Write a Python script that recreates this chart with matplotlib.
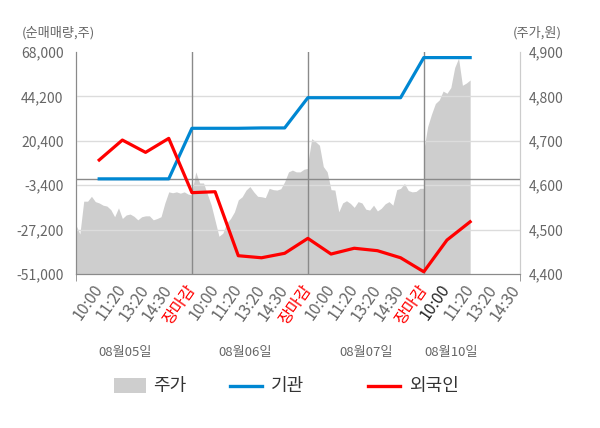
import numpy as np
import matplotlib
matplotlib.use("Agg")
import matplotlib.pyplot as plt
from matplotlib.lines import Line2D
from matplotlib.patches import Rectangle
from matplotlib.transforms import blended_transform_factory

plt.rcParams['font.family'] = ['Noto Sans CJK KR', 'DejaVu Sans']

# x tick labels (4 trading days, last one unfinished)
tick_labels = ["10:00", "11:20", "13:20", "14:30", "장마감",
               "10:00", "11:20", "13:20", "14:30", "장마감",
               "10:00", "11:20", "13:20", "14:30", "장마감",
               "10:00", "11:20", "13:20", "14:30"]
day_labels = ["08월05일", "08월06일", "08월07일", "08월10일"]

# cumulative net buying (shares), one value per tick slot
inst = [0, 0, 0, 0, 27100, 27100, 27100, 27300, 27300,
        43500, 43500, 43500, 43500, 43500, 65000, 65000, 65000]
foreign = [10100, 20800, 14200, 21700, -7400, -6900, -41200, -42300, -39900,
           -31900, -40300, -37200, -38500, -42300, -49800, -32800, -23000]

# intraday price (won), sampled per day
price_d1 = [4510, 4490, 4564, 4564, 4575, 4563, 4560, 4555, 4553, 4545,
            4529, 4549, 4525, 4533, 4535, 4530, 4522, 4529, 4531, 4531,
            4522, 4525, 4529, 4560, 4585, 4583, 4585, 4582, 4585, 4580, 4578]
price_d2 = [4585, 4630, 4605, 4605, 4580, 4555, 4520, 4485, 4492, 4515,
            4525, 4540, 4567, 4574, 4589, 4597, 4585, 4575, 4574, 4572,
            4593, 4590, 4589, 4592, 4608, 4630, 4634, 4630, 4630, 4636, 4638]
price_d3 = [4650, 4705, 4698, 4690, 4642, 4630, 4590, 4589, 4540, 4560,
            4565, 4559, 4550, 4563, 4560, 4546, 4544, 4555, 4542, 4548,
            4558, 4563, 4555, 4590, 4593, 4604, 4588, 4585, 4586, 4593, 4593]
price_d4 = [4679, 4732, 4760, 4784, 4792, 4812, 4807, 4820, 4865, 4886,
            4825, 4830, 4837]

left_ticks = [68000, 44200, 20400, -3400, -27200, -51000]
right_ticks = [4900, 4800, 4700, 4600, 4500, 4400]

W, H = 600, 428
fig = plt.figure(figsize=(6, 4.28), dpi=100)
ax = fig.add_axes([76 / W, 1 - 274 / H, 444 / W, 222 / H])
ax2 = ax.twinx()
ax.set_zorder(ax2.get_zorder() + 1)
ax.patch.set_visible(False)
ax2.patch.set_facecolor("#f4f4f4")

# price area
step = 5 / 30
px, py = [], []
for d, vals in enumerate([price_d1, price_d2, price_d3, price_d4]):
    px.extend(5 * d + np.arange(len(vals)) * step)
    py.extend(vals)
ax2.fill_between(px, 4400, py, color="#cecece", lw=0)
ax2.set_ylim(4400, 4900)
ax2.set_yticks(right_ticks)
ax2.set_yticklabels([f"{v:,}" for v in right_ticks])

# grid and separators
for v in left_ticks[1:-1]:
    ax.axhline(v, color="#dcdcdc", lw=1, zorder=1)
ax.axhline(0, color="#8a8a8a", lw=1, zorder=1)
for xv in [5, 10, 15]:
    ax.axvline(xv, color="#8a8a8a", lw=1, zorder=1)

xs = np.arange(1, len(inst) + 1)
ax.plot(xs, inst, color="#0087d2", lw=2.3, zorder=3)
ax.plot(xs, foreign, color="#ff0000", lw=2.3, zorder=4)

ax.set_ylim(-51000, 68000)
ax.set_xlim(0, 19.15)
ax.set_yticks(left_ticks)
ax.set_yticklabels([f"{v:,}" for v in left_ticks])

ax.set_xticks(np.arange(1, len(tick_labels) + 1))
ax.set_xticklabels(tick_labels, rotation=55, ha="right", va="center",
                   rotation_mode="anchor")
ax.set_xticks([0, 5, 10, 15, 19.15], minor=True)
ax.tick_params(axis="x", which="major", length=0, pad=9, labelsize=11.5, labelcolor="#666666")
ax.tick_params(axis="x", which="minor", length=5, color="#8a8a8a")
ax.tick_params(axis="y", length=0, pad=9, labelsize=10, labelcolor="#666666")
ax2.tick_params(axis="y", length=0, pad=6, labelsize=10, labelcolor="#666666")
for i, lab in enumerate(ax.get_xticklabels()):
    if tick_labels[i] == "장마감":
        lab.set_color("red")
    elif i == 15:
        lab.set_color("#222222")

for a in (ax, ax2):
    a.spines["top"].set_visible(False)
    a.spines["left"].set_color("#8a8a8a")
    a.spines["bottom"].set_color("#8a8a8a")
    a.spines["right"].set_color("#cccccc")

trans = blended_transform_factory(ax.transData, ax.transAxes)
for xv, lab in zip([2.1, 7.3, 12.5, 16.2], day_labels):
    ax.text(xv, -0.355, lab, transform=trans, ha="center", va="center",
            fontsize=9.5, color="#666666")

fig.text(22 / W, 1 - 33 / H, "(순매매량,주)", ha="left", va="center",
         fontsize=9.5, color="#666666")
fig.text(562 / W, 1 - 33 / H, "(주가,원)", ha="right", va="center",
         fontsize=9.5, color="#666666")

# legend, laid out by hand like the original
ly = 1 - 386 / H
fig.add_artist(Rectangle((114 / W, 1 - 393 / H), 32 / W, 15 / H,
                         facecolor="#cecece", edgecolor="none"))
fig.add_artist(Line2D([230 / W, 262 / W], [ly, ly], color="#0087d2", lw=2.4))
fig.add_artist(Line2D([368 / W, 400 / W], [ly, ly], color="#ff0000", lw=2.4))
for x0, lab in [(153, "주가"), (271, "기관"), (409, "외국인")]:
    fig.text(x0 / W, ly, lab, ha="left", va="center", fontsize=13, color="#333333")

fig.savefig("out.png", dpi=100)
